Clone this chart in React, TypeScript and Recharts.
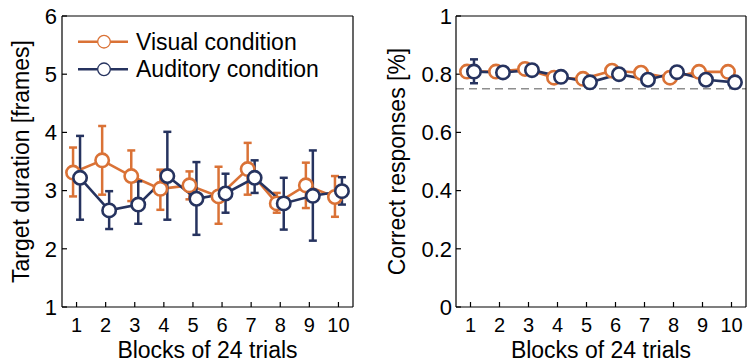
import React from "react";
import { LineChart, Line, XAxis, YAxis, ErrorBar, ReferenceLine } from "recharts";

const blocks = [1, 2, 3, 4, 5, 6, 7, 8, 9, 10];

// left panel: target duration [frames]
const visualDuration = [3.31, 3.52, 3.25, 3.03, 3.09, 2.9, 3.37, 2.78, 3.09, 2.89];
const visualDurationLow = [2.9, 2.93, 2.82, 2.67, 2.85, 2.43, 2.93, 2.62, 2.7, 2.55];
const visualDurationHigh = [3.74, 4.11, 3.69, 3.36, 3.33, 3.41, 3.82, 2.96, 3.48, 3.25];
const auditoryDuration = [3.22, 2.66, 2.76, 3.25, 2.86, 2.95, 3.22, 2.78, 2.91, 2.99];
const auditoryDurationLow = [2.5, 2.34, 2.43, 2.5, 2.24, 2.62, 2.96, 2.33, 2.14, 2.76];
const auditoryDurationHigh = [3.94, 2.99, 3.16, 4.01, 3.49, 3.29, 3.52, 3.22, 3.69, 3.23];

// right panel: correct responses
const visualCorrect = [0.809, 0.809, 0.818, 0.788, 0.784, 0.812, 0.805, 0.788, 0.808, 0.808];
const visualCorrectLow = [0.797, 0.798, 0.806, 0.776, 0.773, 0.8, 0.794, 0.777, 0.797, 0.797];
const visualCorrectHigh = [0.821, 0.82, 0.83, 0.8, 0.795, 0.824, 0.816, 0.799, 0.819, 0.819];
const auditoryCorrect = [0.809, 0.806, 0.814, 0.791, 0.772, 0.8, 0.781, 0.807, 0.781, 0.772];
const auditoryCorrectLow = [0.769, 0.795, 0.803, 0.78, 0.761, 0.789, 0.77, 0.796, 0.77, 0.761];
const auditoryCorrectHigh = [0.851, 0.817, 0.825, 0.802, 0.783, 0.811, 0.792, 0.818, 0.792, 0.783];
const chanceLevel = 0.75;

const durationTicks = [1, 2, 3, 4, 5, 6];
const correctTicks = [0, 0.2, 0.4, 0.6, 0.8, 1];

const ORANGE = "#DA7236";
const NAVY = "#26335F";
const FONT = "'Liberation Sans', Arial, Helvetica, sans-serif";
const JITTER = 0.12;
const TICK = -5;

type Row = { x: number; y: number; err: [number, number] };

function rows(vals: number[], low: number[], high: number[], shift: number): Row[] {
  return blocks.map((b, i) => ({
    x: b + shift,
    y: vals[i],
    err: [vals[i] - low[i], high[i] - vals[i]],
  }));
}

const legendItems = [
  { name: "Visual condition", color: ORANGE },
  { name: "Auditory condition", color: NAVY },
];

function LegendBox() {
  return (
    <svg
      width={280}
      height={62}
      style={{ position: "absolute", left: 70, top: 26, overflow: "visible" }}
    >
      {legendItems.map((p, i) => {
        const cy = 15.7 + i * 27.6;
        return (
          <g key={p.name}>
            <line x1={8} x2={58} y1={cy} y2={cy} stroke={p.color} strokeWidth={2.6} />
            <circle cx={34} cy={cy} r={6.3} fill="#fff" stroke={p.color} strokeWidth={1.3} />
            <text x={66} y={cy + 8} fontSize={23} fontFamily={FONT} fill="#000">
              {p.name}
            </text>
          </g>
        );
      })}
    </svg>
  );
}

function Panel(props: {
  width: number;
  leftAxis: number;
  rightGap: number;
  yDomain: [number, number];
  yTicks: number[];
  yLabel: string;
  yLabelOffset: number;
  tickMarginY: number;
  visual: Row[];
  auditory: Row[];
  chance?: number;
}) {
  const axisStyle = { stroke: "#000", strokeWidth: 1.2 };
  const tickStyle = { fill: "#000", fontSize: 20, fontFamily: FONT };
  const yTickStyle = { fill: "#000", fontSize: 22, fontFamily: FONT };
  const blank = () => "";
  return (
    <LineChart
      width={props.width}
      height={363}
      margin={{ top: 15, right: props.rightGap, bottom: 0, left: 0 }}
    >
      <XAxis
        xAxisId="b"
        dataKey="x"
        type="number"
        domain={[0.5, 10.5]}
        ticks={blocks}
        height={56}
        tickSize={TICK}
        tickMargin={16}
        axisLine={axisStyle}
        tickLine={axisStyle}
        tick={tickStyle}
        label={{
          value: "Blocks of 24 trials",
          position: "insideBottom",
          offset: 5,
          style: { fill: "#000", fontSize: 23, fontFamily: FONT },
        }}
      />
      <XAxis
        xAxisId="t"
        dataKey="x"
        orientation="top"
        type="number"
        domain={[0.5, 10.5]}
        ticks={blocks}
        height={1}
        tickSize={TICK}
        axisLine={axisStyle}
        tickLine={axisStyle}
        tickFormatter={blank}
      />
      <YAxis
        yAxisId="l"
        type="number"
        domain={props.yDomain}
        ticks={props.yTicks}
        width={props.leftAxis}
        tickSize={TICK}
        tickMargin={props.tickMarginY}
        axisLine={axisStyle}
        tickLine={axisStyle}
        tick={yTickStyle}
        label={{
          value: props.yLabel,
          angle: -90,
          position: "insideLeft",
          offset: props.yLabelOffset,
          style: { fill: "#000", fontSize: 23, fontFamily: FONT, textAnchor: "middle" },
        }}
      />
      <YAxis
        yAxisId="r"
        orientation="right"
        type="number"
        domain={props.yDomain}
        ticks={props.yTicks}
        width={1}
        tickSize={TICK}
        axisLine={axisStyle}
        tickLine={axisStyle}
        tickFormatter={blank}
      />
      {props.chance !== undefined && (
        <ReferenceLine
          xAxisId="b"
          yAxisId="l"
          y={props.chance}
          stroke="#8E8E8E"
          strokeWidth={1.6}
          strokeDasharray="8 5"
        />
      )}
      <Line
        xAxisId="b"
        yAxisId="l"
        data={props.visual}
        dataKey="y"
        name="Visual condition"
        stroke={ORANGE}
        strokeWidth={2.6}
        dot={{ r: 6.7, fill: "#fff", stroke: ORANGE, strokeWidth: 2.6 }}
        isAnimationActive={false}
      >
        <ErrorBar dataKey="err" direction="y" width={4} stroke={ORANGE} strokeWidth={2.5} />
      </Line>
      <Line
        xAxisId="b"
        yAxisId="l"
        data={props.auditory}
        dataKey="y"
        name="Auditory condition"
        stroke={NAVY}
        strokeWidth={2.6}
        dot={{ r: 6.7, fill: "#fff", stroke: NAVY, strokeWidth: 2.6 }}
        isAnimationActive={false}
      >
        <ErrorBar dataKey="err" direction="y" width={4} stroke={NAVY} strokeWidth={2.5} />
      </Line>
    </LineChart>
  );
}

export default function App() {
  return (
    <div
      style={{
        position: "absolute",
        left: 0,
        top: 0,
        width: 747,
        height: 363,
        background: "#fff",
        fontFamily: FONT,
      }}
    >
      <div style={{ position: "absolute", left: 0, top: 0 }}>
        <Panel
          width={380}
          leftAxis={62}
          rightGap={26}
          yDomain={[1, 6]}
          yTicks={durationTicks}
          yLabel="Target duration [frames]"
          yLabelOffset={21}
          tickMarginY={10}
          visual={rows(visualDuration, visualDurationLow, visualDurationHigh, -JITTER)}
          auditory={rows(auditoryDuration, auditoryDurationLow, auditoryDurationHigh, JITTER)}
        />
        <LegendBox />
      </div>
      <div style={{ position: "absolute", left: 380, top: 0 }}>
        <Panel
          width={367}
          leftAxis={76}
          rightGap={0}
          yDomain={[0, 1]}
          yTicks={correctTicks}
          yLabel="Correct responses [%]"
          yLabelOffset={17}
          tickMarginY={9}
          visual={rows(visualCorrect, visualCorrectLow, visualCorrectHigh, -JITTER)}
          auditory={rows(auditoryCorrect, auditoryCorrectLow, auditoryCorrectHigh, JITTER)}
          chance={chanceLevel}
        />
      </div>
    </div>
  );
}
